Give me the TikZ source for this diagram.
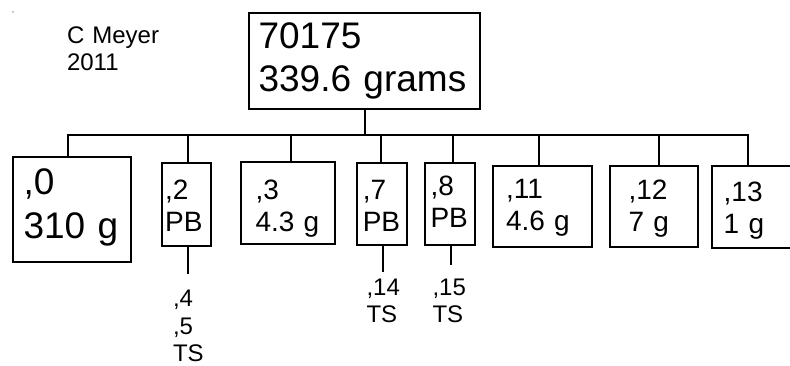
\documentclass[tikz,border=0pt]{standalone}
\usepackage{fontspec}
\setmainfont{Liberation Sans}
\begin{document}
\begin{tikzpicture}[x=1pt,y=-1pt,
  bx/.style={draw, line width=1.8pt, rectangle, inner sep=0pt, outer sep=0pt, align=left, anchor=north west, text height=10pt},
  big/.style={font=\fontsize{37}{43.3}\selectfont},
  small/.style={font=\fontsize{28}{32}\selectfont},
  lbl/.style={font=\fontsize{24}{27.5}\selectfont, inner sep=0pt, outer sep=0pt, anchor=base west, text width=110pt, align=left},
  wire/.style={line width=1.8pt}]
\useasboundingbox (0,0) rectangle (790,366);
\fill[gray!70] (13,12) circle (1pt);
\node[lbl] (cm) at (67,43.3) {C~Meyer\\2011};
% boxes
\node[bx, big, minimum width=230.7pt, minimum height=95.7pt, text width=212.1pt, text depth=35.1pt] (top) at (249.3,13) {70175\\339.6~grams};
\node[bx, big, minimum width=117.7pt, minimum height=105.6pt, text width=97.1pt, text depth=39pt] (b0) at (13.3,156.7) {,0\\310~g};
\node[bx, small, minimum width=49pt, minimum height=82.4pt, text width=42.2pt, text depth=19pt] (b2) at (161.7,163.3) {,2\\PB};
\node[bx, small, minimum width=94pt, minimum height=82.6pt, text width=65pt, text depth=16pt] (b3) at (241,161.7) {,3\\4.3~g};
\node[bx, small, minimum width=50pt, minimum height=81.7pt, text width=37.8pt, text depth=18.3pt] (b7) at (356.7,163.3) {,7\\PB};
\node[bx, small, minimum width=50pt, minimum height=81.7pt, text width=39pt, text depth=26.3pt] (b8) at (425,163.3) {,8\\PB};
\node[bx, small, minimum width=99pt, minimum height=81.6pt, text width=73.6pt, text depth=26.4pt] (b11) at (493.3,165.7) {,11\\4.6~g};
\node[bx, small, minimum width=88.3pt, minimum height=81.6pt, text width=51.1pt, text depth=23pt] (b12) at (610,165.7) {,12\\7~g};
\node[bx, small, minimum width=110pt, minimum height=82pt, text width=86pt, text depth=20pt] (b13) at (711.7,165.7) {,13\\1~g};
% bus
\coordinate (j0) at (68,135);
\coordinate (j2) at (188.3,135);
\coordinate (j3) at (290.7,135);
\coordinate (j7) at (381,135);
\coordinate (j8) at (453.3,135);
\coordinate (j11) at (539,135);
\coordinate (j12) at (659.3,135);
\coordinate (j13) at (747.7,135);
\draw[wire] (top.south) -- (top.south |- j0);
\draw[wire] (j0 |- b0.north) -- (j0) -- (j13) -- (j13 |- b13.north);
\draw[wire] (j2) -- (j2 |- b2.north);
\draw[wire] (j3) -- (j3 |- b3.north);
\draw[wire] (j7) -- (j7 |- b7.north);
\draw[wire] (j8) -- (j8 |- b8.north);
\draw[wire] (j11) -- (j11 |- b11.north);
\draw[wire] (j12) -- (j12 |- b12.north);
% lower stems
\coordinate (e2) at (188.3,274);
\coordinate (e7) at (382.7,271.7);
\coordinate (e8) at (451,265.5);
\draw[wire] (e2 |- b2.south) -- (e2);
\draw[wire] (e7 |- b7.south) -- (e7);
\draw[wire] (e8 |- b8.south) -- (e8);
% labels
\node[lbl] (l2) at (173,306.5) {,4\\,5\\TS};
\node[lbl] (l7) at (366.5,295) {,14\\TS};
\node[lbl] (l8) at (432.5,295) {,15\\TS};
\end{tikzpicture}
\end{document}
